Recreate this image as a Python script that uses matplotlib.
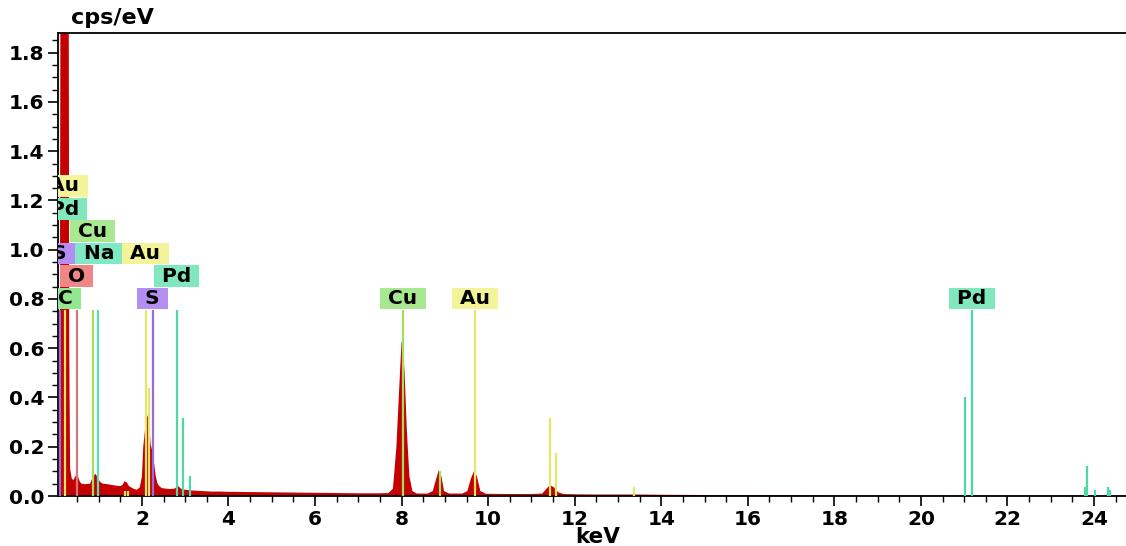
import numpy as np
import matplotlib.pyplot as plt
from matplotlib.ticker import MultipleLocator, FormatStrFormatter

# spectrum (keV, cps/eV)
energy = [0.06, 0.08, 0.10, 0.12, 0.14, 0.30, 0.32, 0.34, 0.38, 0.42, 0.46, 0.50, 0.53, 0.56,
          0.60, 0.70, 0.80, 0.85, 0.90, 0.93, 0.96, 1.00, 1.05, 1.10, 1.20, 1.30, 1.40, 1.50,
          1.55, 1.60, 1.65, 1.70, 1.80, 1.88, 1.95, 2.00, 2.03, 2.06, 2.11, 2.14, 2.17, 2.20,
          2.23, 2.26, 2.29, 2.32, 2.36, 2.40, 2.46, 2.55, 2.65, 2.75, 2.84, 2.90, 3.0, 3.2,
          3.4, 3.6, 3.8, 4.0, 4.5, 5.0, 5.5, 6.0, 6.5, 7.0, 7.5, 7.7, 7.8, 7.88, 7.94, 8.0,
          8.03, 8.07, 8.12, 8.18, 8.25, 8.35, 8.6, 8.72, 8.80, 8.86, 8.92, 8.98, 9.1, 9.4,
          9.52, 9.60, 9.67, 9.74, 9.82, 9.95, 10.5, 11.0, 11.25, 11.35, 11.43, 11.52, 11.62,
          11.75, 12.0, 12.5, 13.0, 13.5, 14.0, 15.0, 16.0, 17.0, 18.0, 19.0, 20.0, 21.0,
          22.0, 23.0, 24.0, 24.8]
cps = [0.02, 0.04, 0.2, 2.5, 3.0, 3.0, 0.6, 0.11, 0.07, 0.065, 0.08, 0.09, 0.075, 0.06,
       0.05, 0.048, 0.05, 0.07, 0.085, 0.09, 0.08, 0.065, 0.055, 0.05, 0.048, 0.045, 0.042, 0.04,
       0.045, 0.06, 0.055, 0.04, 0.03, 0.025, 0.035, 0.08, 0.20, 0.25, 0.33, 0.32, 0.29, 0.21,
       0.19, 0.16, 0.12, 0.08, 0.05, 0.04, 0.032, 0.03, 0.028, 0.03, 0.04, 0.03, 0.025, 0.022,
       0.02, 0.018, 0.018, 0.017, 0.016, 0.015, 0.014, 0.013, 0.012, 0.011, 0.011, 0.012, 0.03, 0.2, 0.42, 0.63,
       0.6, 0.5, 0.27, 0.08, 0.02, 0.01, 0.01, 0.02, 0.07, 0.105, 0.08, 0.02, 0.01, 0.01,
       0.02, 0.07, 0.10, 0.08, 0.02, 0.009, 0.008, 0.008, 0.01, 0.03, 0.045, 0.035, 0.015,
       0.008, 0.007, 0.006, 0.006, 0.006, 0.005, 0.004, 0.004, 0.003, 0.002, 0.002, 0.002, 0.001,
       0.001, 0.001, 0.001, 0.001]

# element marker lines: energy, height, element
line_e = [0.104, 0.22, 0.49, 0.86, 0.99, 2.09, 2.26, 2.80, 8.03, 9.69, 21.18,
          1.61, 1.68, 2.17, 2.94, 3.12, 8.89, 11.42, 11.56, 13.37, 21.02,
          23.79, 23.84, 24.02, 24.32, 24.36]
line_h = [0.755, 0.755, 0.755, 0.755, 0.755, 0.755, 0.755, 0.755, 0.755, 0.755, 0.755,
          0.02, 0.02, 0.44, 0.315, 0.08, 0.1, 0.315, 0.175, 0.037, 0.40,
          0.035, 0.12, 0.025, 0.035, 0.025]
line_el = ['S', 'Au', 'O', 'Cu', 'Na', 'Au', 'S', 'Pd', 'Cu', 'Au', 'Pd',
           'Au', 'Au', 'Au', 'Pd', 'Pd', 'Cu', 'Au', 'Au', 'Au', 'Pd',
           'Pd', 'Pd', 'Pd', 'Pd', 'Pd']

# labels: text, x (keV), y (cps/eV)
lab_txt = ['Au', 'Pd', 'Cu', 'S', 'Na', 'Au', 'O', 'Pd', 'C', 'S', 'Cu', 'Au', 'Pd']
lab_x = [0.21, 0.21, 0.855, 0.10, 1.005, 2.08, 0.485, 2.80, 0.23, 2.25, 8.03, 9.69, 21.18]
lab_y = [1.259, 1.165, 1.076, 0.985, 0.985, 0.985, 0.893, 0.893, 0.802, 0.802, 0.802, 0.802, 0.802]

box_col = {'Au': '#f3f39a', 'Pd': '#80e8bc', 'Cu': '#a8e890', 'Na': '#80e8c4',
           'S': '#b48ef0', 'O': '#f08686', 'C': '#90e890'}
line_col = {'Au': '#e6e66a', 'Pd': '#4fd8a4', 'Cu': '#a4de60', 'Na': '#5cdcb4',
            'S': '#9a6ae0', 'O': '#cc7a7a', 'C': '#80d880'}

plt.rcParams['font.family'] = 'DejaVu Sans'
plt.rcParams['font.weight'] = 'bold'

fig = plt.figure(figsize=(11.26, 5.46), dpi=100)
ax = fig.add_axes([58 / 1126, 1 - 496 / 546, 1 - 58 / 1126, (496 - 33) / 546])

ax.fill_between(energy, cps, 0, color='#c40000', lw=0, zorder=2)
for e, h, el in zip(line_e, line_h, line_el):
    ax.vlines(e, 0, h, color=line_col[el], lw=1.6, zorder=3)

for t, x, y in zip(lab_txt, lab_x, lab_y):
    ax.text(x, y, ' ' + t + ' ', ha='center', va='center', fontsize=14.5, fontweight='bold',
            bbox=dict(boxstyle='square,pad=0.06', fc=box_col[t], ec='none'), zorder=5,
            clip_on=True)

ax.set_xlim(0.06, 24.74)
ax.set_ylim(0, 1.88)
ax.xaxis.set_major_locator(MultipleLocator(2))
ax.xaxis.set_minor_locator(MultipleLocator(0.5))
ax.yaxis.set_major_locator(MultipleLocator(0.2))
ax.yaxis.set_minor_locator(MultipleLocator(0.05))
ax.yaxis.set_major_formatter(FormatStrFormatter('%.1f'))
ax.tick_params(axis='both', which='major', labelsize=14.5, length=7, width=1.2, pad=3)
ax.tick_params(axis='both', which='minor', length=4, width=1)
for lbl in ax.get_xticklabels() + ax.get_yticklabels():
    lbl.set_fontweight('bold')
ax.spines['right'].set_visible(False)
for s in ['left', 'top', 'bottom']:
    ax.spines[s].set_linewidth(1.3)

fig.text(112 / 1126, 1 - 18 / 546, 'cps/eV', ha='center', va='center', fontsize=16,
         fontweight='bold')
fig.text(598 / 1126, 1 - 537 / 546, 'keV', ha='center', va='center', fontsize=15.5,
         fontweight='bold')

fig.savefig('out.png', dpi=100)
